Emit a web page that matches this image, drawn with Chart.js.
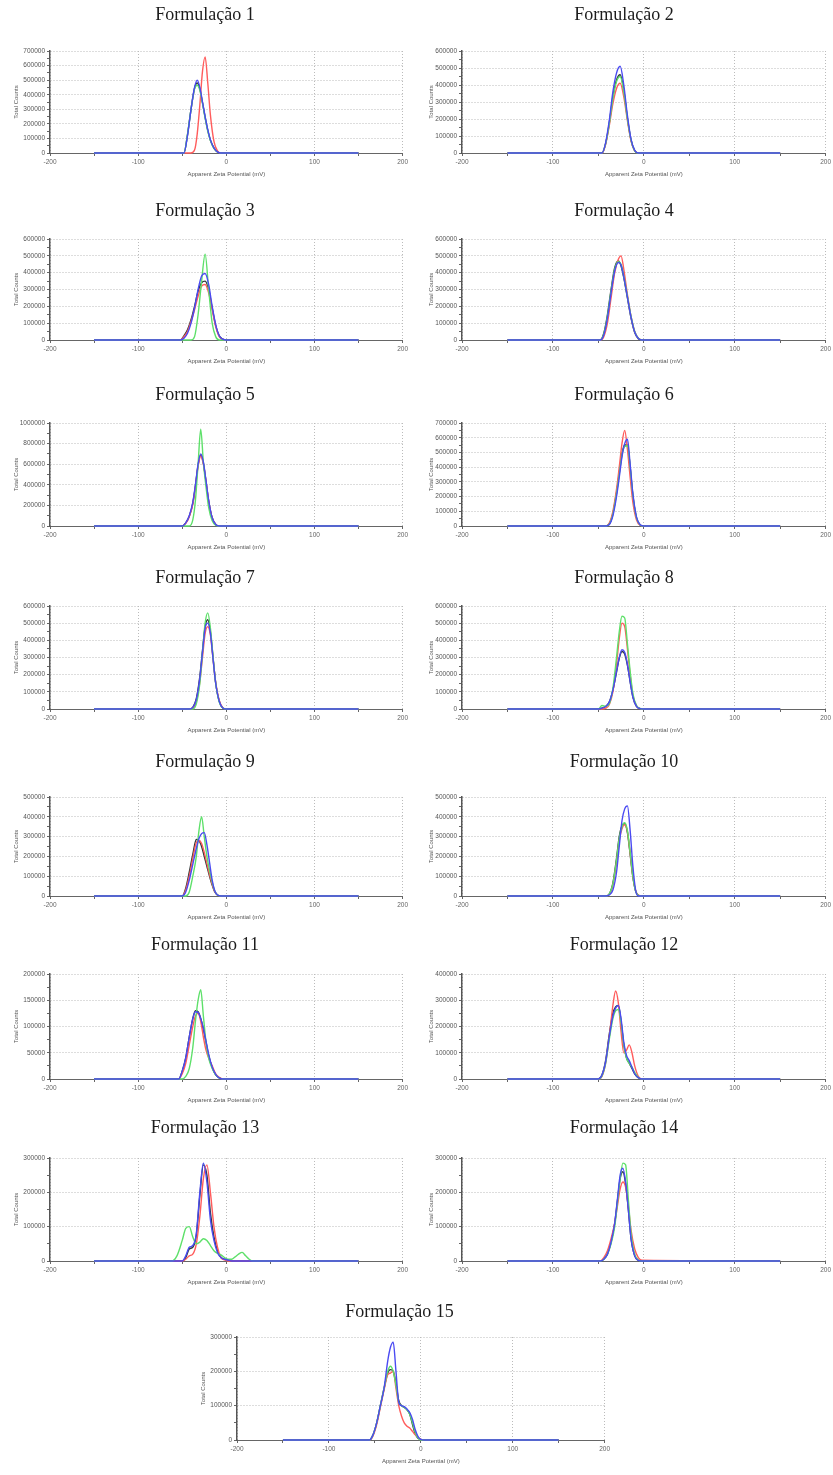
<!DOCTYPE html>
<html>
<head>
<meta charset="utf-8">
<title>Formulações - potencial zeta</title>
<script src="https://cdn.jsdelivr.net/npm/chart.js@4.4.0/dist/chart.umd.min.js"></script>
<style>
  html, body { margin: 0; padding: 0; background: #fff; }
  body { width: 833px; height: 1475px; position: relative; overflow: hidden; }
  canvas { position: absolute; }
</style>
</head>
<body>
<script>
// Apparent zeta potential (mV) and total counts (in thousands)

const titles = ["Formulação 1", "Formulação 2", "Formulação 3", "Formulação 4", "Formulação 5",
  "Formulação 6", "Formulação 7", "Formulação 8", "Formulação 9", "Formulação 10",
  "Formulação 11", "Formulação 12", "Formulação 13", "Formulação 14", "Formulação 15"];
const yMax = [700000, 600000, 600000, 600000, 1000000, 700000, 600000, 600000, 500000, 500000,
  200000, 400000, 300000, 300000, 300000];
const yStep = [100000, 100000, 100000, 100000, 200000, 100000, 100000, 100000, 100000, 100000,
  50000, 100000, 100000, 100000, 100000];

const f1Zeta = [-150, -48, -44, -40, -36, -33, -30, -27, -24, -21, -18, -14, -10, -6, 150];
const f1Blue = [0, 0, 120, 300, 450, 500, 450, 350, 250, 160, 90, 35, 8, 0, 0];
const f1Green = [0, 0, 130, 300, 440, 465, 430, 340, 240, 150, 85, 32, 7, 0, 0];
const f1Red = [0, 0, 0, 0, 20, 130, 330, 560, 660, 480, 260, 80, 15, 0, 0];
const f1Black = [0, 0, 125, 300, 445, 480, 440, 345, 245, 155, 88, 34, 8, 0, 0];

const f2Zeta = [-150, -46, -42, -38, -34, -30, -26, -22, -18, -14, -10, -6, 150];
const f2Blue = [0, 0, 60, 190, 360, 470, 510, 400, 220, 80, 15, 0, 0];
const f2Green = [0, 0, 55, 170, 320, 420, 450, 360, 200, 75, 13, 0, 0];
const f2Red = [0, 0, 50, 160, 290, 380, 410, 330, 190, 70, 12, 0, 0];
const f2Black = [0, 0, 55, 175, 330, 430, 460, 370, 205, 75, 14, 0, 0];

const f3Zeta = [-150, -52, -48, -44, -40, -36, -32, -28, -24, -20, -16, -12, -8, -4, 0, 150];
const f3Blue = [0, 0, 10, 40, 100, 190, 300, 380, 395, 330, 200, 90, 25, 5, 0, 0];
const f3Green = [0, 0, 0, 0, 0, 20, 150, 350, 510, 300, 100, 20, 0, 0, 0, 0];
const f3Red = [0, 0, 20, 50, 110, 180, 260, 320, 330, 280, 180, 80, 20, 3, 0, 0];
const f3Black = [0, 0, 25, 60, 120, 200, 290, 340, 350, 300, 190, 85, 25, 5, 0, 0];

const f4Zeta = [-150, -48, -44, -40, -36, -32, -28, -25, -22, -18, -14, -10, -6, -2, 150];
const f4Blue = [0, 0, 30, 130, 280, 410, 460, 445, 375, 255, 135, 48, 9, 0, 0];
const f4Green = [0, 0, 35, 140, 290, 420, 465, 450, 380, 260, 140, 50, 10, 0, 0];
const f4Red = [0, 0, 20, 100, 250, 400, 480, 500, 420, 270, 140, 50, 10, 0, 0];
const f4Black = [0, 0, 40, 150, 300, 430, 470, 440, 370, 250, 130, 45, 8, 0, 0];

const f5Zeta = [-150, -50, -46, -42, -38, -35, -32, -29, -26, -23, -20, -16, -12, -8, 150];
const f5Blue = [0, 0, 30, 100, 230, 400, 600, 700, 620, 440, 250, 80, 15, 0, 0];
const f5Green = [0, 0, 0, 0, 60, 250, 600, 940, 620, 380, 180, 50, 8, 0, 0];
const f5Red = [0, 0, 25, 90, 210, 380, 580, 680, 600, 430, 240, 78, 14, 0, 0];
const f5Black = [0, 0, 30, 95, 220, 390, 590, 690, 610, 430, 245, 80, 15, 0, 0];

const f6Zeta = [-150, -42, -38, -34, -30, -27, -24, -21, -18, -15, -12, -8, -4, 0, 150];
const f6Blue = [0, 0, 10, 70, 200, 330, 470, 560, 590, 420, 220, 60, 8, 0, 0];
const f6Green = [0, 0, 12, 80, 220, 350, 480, 540, 545, 400, 210, 55, 7, 0, 0];
const f6Red = [0, 0, 20, 100, 250, 400, 560, 650, 520, 330, 160, 40, 5, 0, 0];
const f6Black = [0, 0, 12, 85, 225, 360, 490, 550, 550, 400, 205, 55, 7, 0, 0];

const f7Zeta = [-150, -42, -38, -34, -30, -27, -24, -21, -18, -15, -12, -8, -4, 0, 150];
const f7Blue = [0, 0, 8, 55, 180, 330, 470, 500, 440, 290, 150, 45, 6, 0, 0];
const f7Green = [0, 0, 0, 30, 150, 330, 500, 560, 470, 300, 150, 40, 5, 0, 0];
const f7Red = [0, 0, 5, 45, 160, 300, 440, 480, 430, 290, 155, 50, 8, 0, 0];
const f7Black = [0, 0, 10, 60, 190, 340, 480, 520, 450, 300, 150, 45, 6, 0, 0];

const f8Zeta = [-150, -50, -46, -42, -38, -34, -30, -27, -24, -21, -18, -15, -12, -8, -4, 0, 150];
const f8Blue = [0, 0, 5, 15, 40, 110, 220, 300, 345, 330, 260, 160, 70, 15, 2, 0, 0];
const f8Green = [0, 0, 20, 15, 30, 120, 300, 450, 540, 530, 380, 220, 90, 20, 3, 0, 0];
const f8Red = [0, 0, 0, 5, 25, 100, 260, 410, 500, 480, 350, 200, 80, 18, 2, 0, 0];
const f8Black = [0, 0, 5, 15, 40, 110, 215, 295, 335, 320, 255, 160, 70, 15, 2, 0, 0];

const f9Zeta = [-150, -50, -46, -42, -38, -34, -31, -28, -25, -22, -19, -16, -13, -10, -6, 150];
const f9Blue = [0, 0, 20, 80, 160, 240, 290, 315, 320, 260, 170, 80, 25, 5, 0, 0];
const f9Green = [0, 0, 0, 20, 100, 200, 330, 400, 300, 200, 130, 70, 25, 5, 0, 0];
const f9Red = [0, 0, 30, 100, 190, 270, 280, 265, 220, 165, 110, 60, 22, 5, 0, 0];
const f9Black = [0, 0, 40, 120, 210, 285, 280, 250, 200, 150, 100, 55, 20, 5, 0, 0];

const f10Zeta = [-150, -42, -38, -34, -30, -27, -24, -21, -18, -15, -12, -9, -6, -2, 150];
const f10Blue = [0, 0, 5, 30, 120, 250, 380, 440, 455, 330, 150, 30, 0, 0, 0];
const f10Green = [0, 0, 10, 60, 180, 290, 350, 370, 330, 220, 100, 25, 3, 0, 0];
const f10Red = [0, 0, 8, 55, 170, 280, 340, 360, 325, 215, 100, 28, 4, 0, 0];
const f10Black = [0, 0, 10, 65, 190, 300, 355, 365, 320, 210, 95, 25, 3, 0, 0];

const f11Zeta = [-150, -54, -50, -46, -42, -38, -35, -32, -29, -26, -23, -20, -16, -12, -8, -4, 150];
const f11Blue = [0, 0, 15, 40, 80, 115, 128, 127, 115, 97, 72, 47, 23, 9, 2, 0, 0];
const f11Green = [0, 0, 0, 5, 20, 60, 110, 150, 170, 120, 70, 40, 20, 8, 2, 0, 0];
const f11Red = [0, 0, 10, 30, 65, 100, 120, 125, 110, 80, 55, 40, 25, 10, 3, 0, 0];
const f11Black = [0, 0, 15, 40, 80, 115, 130, 128, 115, 95, 70, 45, 22, 8, 2, 0, 0];

const f12Zeta = [-150, -50, -46, -42, -38, -34, -31, -28, -25, -22, -19, -16, -13, -10, -6, -2, 150];
const f12Blue = [0, 0, 15, 65, 160, 240, 270, 280, 230, 140, 90, 70, 45, 20, 5, 0, 0];
const f12Green = [0, 0, 12, 60, 150, 230, 260, 265, 215, 130, 80, 60, 45, 25, 6, 0, 0];
const f12Red = [0, 0, 10, 60, 160, 280, 335, 290, 180, 100, 110, 130, 100, 50, 10, 0, 0];
const f12Black = [0, 0, 15, 70, 170, 250, 275, 280, 220, 130, 80, 60, 40, 20, 5, 0, 0];

const f13Zeta = [-150, -62, -56, -50, -46, -42, -38, -34, -30, -26, -22, -18, -14, -10, -6, -2, 2, 6, 10, 14, 18, 22, 26, 30, 150];
const f13Blue = [0, 0, 0, 0, 15, 40, 45, 80, 200, 285, 230, 120, 60, 25, 10, 5, 3, 0, 0, 0, 0, 0, 0, 0, 0];
const f13Green = [0, 0, 15, 60, 95, 100, 70, 50, 55, 65, 60, 45, 30, 22, 18, 10, 5, 5, 12, 20, 25, 15, 5, 0, 0];
const f13Red = [0, 0, 0, 0, 5, 15, 20, 50, 130, 240, 280, 200, 100, 40, 10, 3, 0, 0, 0, 0, 0, 0, 0, 0, 0];
const f13Black = [0, 0, 0, 0, 10, 35, 40, 75, 190, 280, 250, 140, 70, 30, 10, 5, 3, 0, 0, 0, 0, 0, 0, 0, 0];

const f14Zeta = [-150, -48, -44, -40, -36, -32, -29, -26, -23, -20, -17, -14, -10, -6, -2, 150];
const f14Blue = [0, 0, 5, 20, 55, 110, 180, 250, 270, 230, 150, 65, 15, 2, 0, 0];
const f14Green = [0, 0, 5, 20, 50, 100, 170, 240, 285, 280, 180, 80, 20, 3, 0, 0];
const f14Red = [0, 0, 10, 30, 65, 110, 160, 210, 230, 215, 160, 90, 35, 10, 2, 0];
const f14Black = [0, 0, 5, 20, 55, 110, 175, 240, 260, 225, 150, 65, 15, 2, 0, 0];

const f15Zeta = [-150, -56, -52, -48, -44, -40, -36, -33, -30, -27, -24, -21, -18, -15, -12, -9, -6, -3, 0, 4, 150];
const f15Blue = [0, 0, 15, 50, 100, 150, 230, 270, 285, 200, 110, 100, 97, 90, 80, 60, 30, 10, 2, 0, 0];
const f15Green = [0, 0, 15, 50, 100, 150, 200, 215, 200, 160, 110, 100, 95, 88, 75, 50, 22, 6, 0, 0, 0];
const f15Red = [0, 0, 12, 45, 95, 145, 190, 195, 200, 150, 100, 70, 50, 40, 35, 25, 15, 8, 2, 0, 0];
const f15Black = [0, 0, 15, 50, 100, 150, 195, 205, 200, 165, 115, 100, 95, 88, 75, 45, 18, 5, 2, 0, 0];

const panels = [
  [f1Zeta, f1Blue, f1Green, f1Red, f1Black],
  [f2Zeta, f2Blue, f2Green, f2Red, f2Black],
  [f3Zeta, f3Blue, f3Green, f3Red, f3Black],
  [f4Zeta, f4Blue, f4Green, f4Red, f4Black],
  [f5Zeta, f5Blue, f5Green, f5Red, f5Black],
  [f6Zeta, f6Blue, f6Green, f6Red, f6Black],
  [f7Zeta, f7Blue, f7Green, f7Red, f7Black],
  [f8Zeta, f8Blue, f8Green, f8Red, f8Black],
  [f9Zeta, f9Blue, f9Green, f9Red, f9Black],
  [f10Zeta, f10Blue, f10Green, f10Red, f10Black],
  [f11Zeta, f11Blue, f11Green, f11Red, f11Black],
  [f12Zeta, f12Blue, f12Green, f12Red, f12Black],
  [f13Zeta, f13Blue, f13Green, f13Red, f13Black],
  [f14Zeta, f14Blue, f14Green, f14Red, f14Black],
  [f15Zeta, f15Blue, f15Green, f15Red, f15Black],
];

// page layout: title centre, plot top and zero line of each row (px)
const rowTitleY = [15, 211, 395, 578, 762, 945, 1128, 1312];
const rowPlotTop = [51, 239, 423, 606, 797, 974, 1158, 1337];
const rowPlotZero = [153, 340, 526, 709, 896, 1079, 1261, 1440];
const lineColors = ["#4a4af2", "#5ee06a", "#ff5c5c", "#2c3838"];

Chart.defaults.font.family = "'Liberation Sans', Arial, sans-serif";

function boxFor(i) {
  const row = Math.floor(i / 2);
  const top = rowTitleY[row] - 12;
  const h = rowPlotZero[row] - top + 27;
  const padBottom = rowPlotTop[row] - top - 22.6;
  if (i === 14) return { x: 187, y: top, w: 425, h, yw: 50, padBottom };
  if (i % 2 === 0) return { x: 0, y: top, w: 410, h, yw: 50, padBottom };
  return { x: 415, y: top, w: 418, h, yw: 47, padBottom };
}

function drawPanel(i) {
  const [zeta, ...series] = panels[i];
  const box = boxFor(i);
  const canvas = document.createElement("canvas");
  canvas.width = box.w;
  canvas.height = box.h;
  canvas.style.left = box.x + "px";
  canvas.style.top = box.y + "px";
  document.body.appendChild(canvas);

  const datasets = series.map((vals, s) => ({
    data: zeta.map((z, k) => ({ x: z, y: vals[k] * 1000 })),
    borderColor: lineColors[s],
    borderWidth: 1.4,
    pointRadius: 0,
    cubicInterpolationMode: "monotone",
    fill: false,
    clip: 4,
  }));

  const major = yStep[i];
  const tickFont = { size: 6.5 };

  new Chart(canvas, {
    type: "line",
    data: { datasets },
    options: {
      responsive: false,
      animation: false,
      layout: { padding: 0 },
      plugins: {
        legend: { display: false },
        tooltip: { enabled: false },
        title: {
          display: true,
          text: titles[i],
          color: "#1c1c1c",
          font: { family: "'Liberation Serif', 'Times New Roman', serif", size: 18, weight: "normal" },
          padding: { top: 1, bottom: box.padBottom },
        },
      },
      scales: {
        x: {
          type: "linear",
          min: -200,
          max: 200,
          afterFit: (s) => { s.height = 27; },
          ticks: {
            stepSize: 50,
            autoSkip: false,
            maxRotation: 0,
            color: "#666",
            font: tickFont,
            padding: 2,
            callback: (v) => (v % 100 === 0 ? String(v) : ""),
          },
          grid: {
            color: (c) => (c.tick && c.tick.value % 100 === 0 ? "#bbbbbb" : "rgba(0,0,0,0)"),
            tickColor: "#666",
            tickLength: 3,
          },
          border: { color: "#666", width: 1, dash: [1, 2] },
          title: {
            display: true,
            text: "Apparent Zeta Potential (mV)",
            color: "#555",
            font: { size: 6 },
            padding: { top: 0, bottom: 2 },
          },
        },
        y: {
          min: 0,
          max: yMax[i],
          afterFit: (s) => { s.width = box.yw; },
          ticks: {
            stepSize: major / 2,
            autoSkip: false,
            color: "#555",
            font: tickFont,
            padding: 2,
            callback: (v) => (v % major === 0 ? String(v) : ""),
          },
          grid: {
            color: (c) => (c.tick && c.tick.value % major === 0 ? "#bbbbbb" : "rgba(0,0,0,0)"),
            tickColor: "#666",
            tickLength: 3,
          },
          border: { color: "#555", width: 1.5, dash: [1, 2] },
          title: {
            display: true,
            text: "Total Counts",
            color: "#555",
            font: { size: 6 },
            padding: { top: 13, bottom: 0 },
          },
        },
      },
    },
  });
}

for (let i = 0; i < panels.length; i++) drawPanel(i);
</script>
</body>
</html>
